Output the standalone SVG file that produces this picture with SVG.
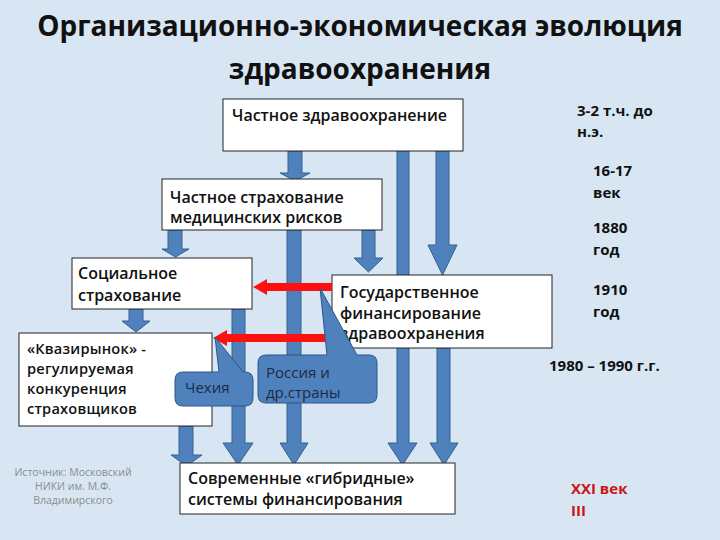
<svg xmlns="http://www.w3.org/2000/svg" width="720" height="540" viewBox="0 0 720 540">
<style>
  .t{font-family:"Open Sans","Noto Sans","DejaVu Sans",sans-serif;fill:#111}
  .title{font-size:28px;font-weight:bold;text-anchor:middle}
  .bx{font-size:16px;font-weight:600}
  .bq{font-size:14.6px;font-weight:600;letter-spacing:0.2px}
  .dt{font-size:15px;font-weight:bold}
  .co{font-size:15px;fill:#1b2a45}
  .src{font-size:10.5px;fill:#8c8c8c;text-anchor:middle}
  .box{fill:#fff;stroke:#222;stroke-width:1}
  .ba{fill:#4f81bd;stroke:#35608f;stroke-width:1}
  .ra{fill:#ff1010}
  .call{fill:#4f81bd;stroke:#2f5588;stroke-width:1}
</style>
<rect width="720" height="540" fill="#d8e6f4"/>
<g id="title">
  <text class="t title" x="360" y="36">Организационно-экономическая эволюция</text>
  <text class="t title" x="360" y="79">здравоохранения</text>
</g>
<g id="connectors">
  <polygon class="ba" points="288,151 302,151 302,173 310,173 295,181 280,173 288,173"/>
  <polygon class="ba" points="168,230 182,230 182,249 189,249 175.5,257 162,249 168,249"/>
  <polygon class="ba" points="362,230 375,230 375,258 383,258 368.5,272 354,258 362,258"/>
  <polygon class="ba" points="436,151 449,151 449,245 457,245 442.5,275 428,245 436,245"/>
  <polygon class="ba" points="129,309 143,309 143,321 150,321 136,332 122,321 129,321"/>
  <polygon class="ba" points="232,309 245,309 245,443 253,443 238,465 223,443 232,443"/>
  <polygon class="ba" points="287,230 301,230 301,443 308,443 294,465 280,443 287,443"/>
  <polygon class="ba" points="397,151 409,151 409,443 417,443 402.5,465 388,443 397,443"/>
  <polygon class="ba" points="437,348 450,348 450,443 458,443 444,465 430,443 437,443"/>
  <polygon class="ba" points="179,426 193,426 193,455 202,455 186.5,466 171,455 179,455"/>
</g>
<g id="n-private-health">
  <rect class="box" x="223" y="99" width="240" height="52"/>
  <text class="t bx" x="232" y="121">Частное здравоохранение</text>
</g>
<g id="n-private-insurance">
  <rect class="box" x="162" y="179" width="220" height="51"/>
  <text class="t bx" x="170" y="203">Частное страхование</text>
  <text class="t bx" x="170" y="223">медицинских рисков</text>
</g>
<g id="n-social">
  <rect class="box" x="72" y="258" width="180" height="51"/>
  <text class="t bx" x="78" y="279">Социальное</text>
  <text class="t bx" x="78" y="301">страхование</text>
</g>
<g id="n-quasi">
  <rect class="box" x="19" y="333" width="193" height="93"/>
  <text class="t bq" x="27" y="354">«Квазирынок» -</text>
  <text class="t bq" x="27" y="374">регулируемая</text>
  <text class="t bq" x="27" y="394">конкуренция</text>
  <text class="t bq" x="27" y="414">страховщиков</text>
</g>
<g id="n-state">
  <rect class="box" x="332" y="275" width="220" height="73"/>
  <text class="t bx" x="340" y="298">Государственное</text>
  <text class="t bx" x="340" y="319">финансирование</text>
  <text class="t bx" x="340" y="339">здравоохранения</text>
</g>
<g id="n-hybrid">
  <rect class="box" x="180" y="463" width="275" height="51"/>
  <text class="t bx" x="188" y="484">Современные «гибридные»</text>
  <text class="t bx" x="188" y="505">системы финансирования</text>
</g>
<g id="red-arrows">
  <polygon class="ra" points="332,283 267,283 267,279 253,287 267,295 267,291 332,291"/>
  <polygon class="ra" points="325,334 227,334 227,330 213,338 227,346 227,342 325,342"/>
</g>
<g id="n-czech">
  <path class="call" d="M183 372 L219 372 L215 337 L243 372 L245 372 Q253 372 253 380 L253 398 Q253 406 245 406 L183 406 Q175 406 175 398 L175 380 Q175 372 183 372 Z"/>
  <text class="t co" x="185" y="393">Чехия</text>
</g>
<g id="n-russia">
  <path class="call" d="M266 355 L327 355 L320 288 L357 355 L369 355 Q377 355 377 363 L377 395 Q377 403 369 403 L266 403 Q258 403 258 395 L258 363 Q258 355 266 355 Z"/>
  <text class="t co" x="266" y="378">Россия и</text>
  <text class="t co" x="266" y="398">др.страны</text>
</g>
<g id="dates">
  <text class="t dt" x="577" y="116">3-2 т.ч. до</text>
  <text class="t dt" x="577" y="137">н.э.</text>
  <text class="t dt" x="593" y="176">16-17</text>
  <text class="t dt" x="593" y="198">век</text>
  <text class="t dt" x="593" y="233">1880</text>
  <text class="t dt" x="593" y="255">год</text>
  <text class="t dt" x="593" y="295">1910</text>
  <text class="t dt" x="593" y="317">год</text>
  <text class="t dt" x="549" y="371">1980 – 1990 г.г.</text>
  <text class="t dt" x="571" y="494" style="fill:#cc1414">XXI век</text>
  <text class="t dt" x="571" y="516" style="fill:#cc1414">III</text>
</g>
<g id="source">
  <text class="t src" x="73" y="476">Источник: Московский</text>
  <text class="t src" x="73" y="490">НИКИ им. М.Ф.</text>
  <text class="t src" x="73" y="504">Владимирского</text>
</g>
</svg>
